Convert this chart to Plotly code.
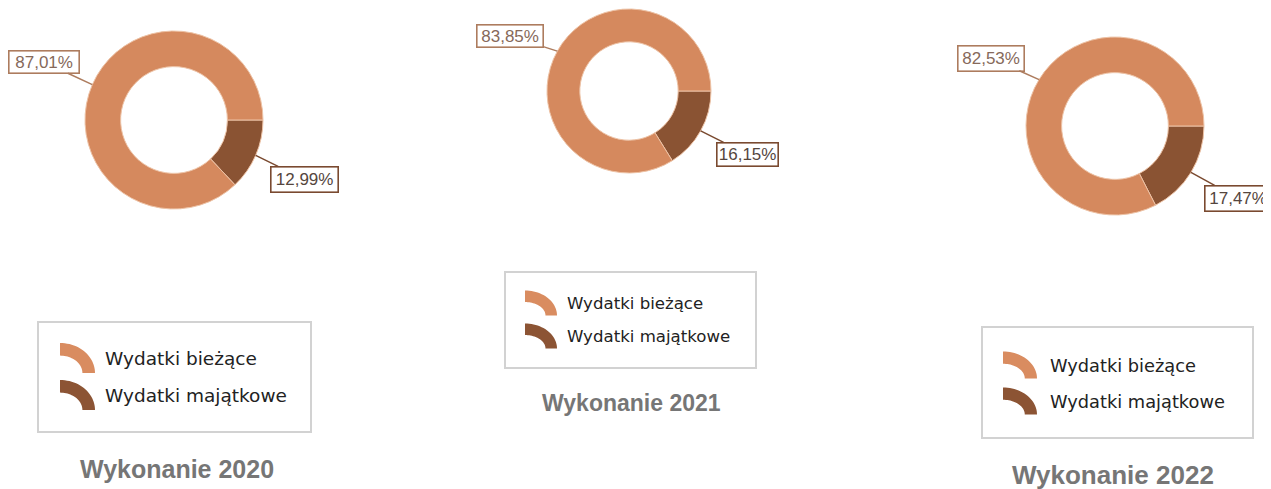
import numpy as np
import plotly.graph_objects as go

# page window is 1271x489; the page body adds an 8px margin
OFF = 8
W, H = 1271 - OFF, 489 - OFF

categories = ["Wydatki bieżące", "Wydatki majątkowe"]
share_2020 = [87.01, 12.99]
share_2021 = [83.85, 16.15]
share_2022 = [82.53, 17.47]
titles = ["Wykonanie 2020", "Wykonanie 2021", "Wykonanie 2022"]

series = [share_2020, share_2021, share_2022]

slice_colors = ["#D5895E", "#8A5333"]
icon_colors = ["#D98C60", "#8C5434"]
box_border = ["#AD7C5E", "#7A4A30"]
box_text = ["#86695A", "#55463E"]

# layout (window pixels)
centers = [(174, 120), (629, 91), (1115, 126)]
radii = [89, 82, 89]
label_boxes = [
    [(44, 62, 72, 24), (304, 179, 69, 27)],
    [(510, 36, 68, 24), (747, 154, 63, 25)],
    [(991, 58, 68, 27), (1238, 198, 68, 27)],
]
legends = [
    dict(box=(38, 322, 311, 432), ix=60, iw=35, ih=30, rows=(358, 395), tx=103, fs=18.5),
    dict(box=(505, 272, 756, 368), ix=525, iw=32, ih=25, rows=(303, 336), tx=565, fs=16.6),
    dict(box=(982, 327, 1253, 438), ix=1003, iw=34, ih=27, rows=(365, 401), tx=1048, fs=17.8),
]
title_pos = [(177, 469, 25), (631, 403, 23), (1113, 475, 26)]


def px(x):
    return (x - OFF) / W


def py(y):
    return 1 - (y - OFF) / H


fig = go.Figure()
annotations = []
shapes = []

for k, vals in enumerate(series):
    cx, cy = centers[k]
    r = radii[k]
    # drawn clockwise from 3 o'clock: the small slice first, then the large one
    fig.add_trace(go.Pie(
        values=vals[::-1], labels=categories[::-1], sort=False,
        direction="clockwise", rotation=90, hole=0.6,
        textinfo="none", showlegend=False,
        marker=dict(colors=slice_colors[::-1], line=dict(color="#EDC2A5", width=1)),
        domain=dict(x=[px(cx - r), px(cx + r)], y=[py(cy + r), py(cy - r)]),
        hovertemplate="%{label}: %{value:.2f}%<extra></extra>",
    ))
    total = sum(vals)
    start = 0.0
    for i, v in enumerate(vals):
        span = v / total * 360
        mid = np.deg2rad(start + span / 2)
        start += span
        tx = cx + r * np.cos(mid)
        ty = cy - r * np.sin(mid)
        bx, by, bw, bh = label_boxes[k][i]
        annotations.append(dict(
            x=px(tx), y=py(ty), xref="paper", yref="paper",
            ax=bx - tx, ay=by - ty, axref="pixel", ayref="pixel",
            showarrow=True, arrowhead=0, arrowwidth=1.5, arrowcolor=box_border[i],
            text=f"{v:.2f}".replace(".", ",") + "%",
            font=dict(family="Liberation Sans, Arial", size=17, color=box_text[i]),
            bordercolor=box_border[i], borderwidth=1.6, borderpad=1,
            bgcolor="white", width=bw - 5, height=bh - 5,
        ))

    lg = legends[k]
    x0, y0, x1, y1 = lg["box"]
    shapes.append(dict(type="rect", xref="paper", yref="paper",
                       x0=px(x0), x1=px(x1), y0=py(y1), y1=py(y0),
                       line=dict(color="#D2D2D2", width=2), fillcolor="rgba(0,0,0,0)"))
    for i, cat in enumerate(categories):
        rc = lg["rows"][i]
        ox = lg["ix"]
        oy = rc + lg["ih"] / 2
        rxo, ryo = lg["iw"], lg["ih"]
        th = lg["iw"] * 0.36
        rxi, ryi = rxo - th, ryo - th
        ang = np.linspace(np.pi / 2, 0, 24)
        pts = [(ox + rxo * np.cos(a), oy - ryo * np.sin(a)) for a in ang]
        pts += [(ox + rxi * np.cos(a), oy - ryi * np.sin(a)) for a in ang[::-1]]
        path = "M " + " L ".join(f"{px(a):.5f},{py(b):.5f}" for a, b in pts) + " Z"
        shapes.append(dict(type="path", xref="paper", yref="paper", path=path,
                           fillcolor=icon_colors[i], line=dict(width=0)))
        annotations.append(dict(
            x=px(lg["tx"]), y=py(rc), xref="paper", yref="paper",
            xanchor="left", yanchor="middle", showarrow=False, text=cat,
            font=dict(family="DejaVu Sans", size=lg["fs"], color="#222222"),
        ))

    tx_, ty_, tfs = title_pos[k]
    annotations.append(dict(
        x=px(tx_), y=py(ty_), xref="paper", yref="paper",
        xanchor="center", yanchor="middle", showarrow=False,
        text=f"<b>{titles[k]}</b>",
        font=dict(family="Liberation Sans, Arial", size=tfs, color="#767676"),
    ))

fig.update_layout(
    width=W, height=H, autosize=False,
    margin=dict(l=0, r=0, t=0, b=0),
    paper_bgcolor="white", plot_bgcolor="white",
    annotations=annotations, shapes=shapes,
    showlegend=False,
)

fig.write_html("out.html")
